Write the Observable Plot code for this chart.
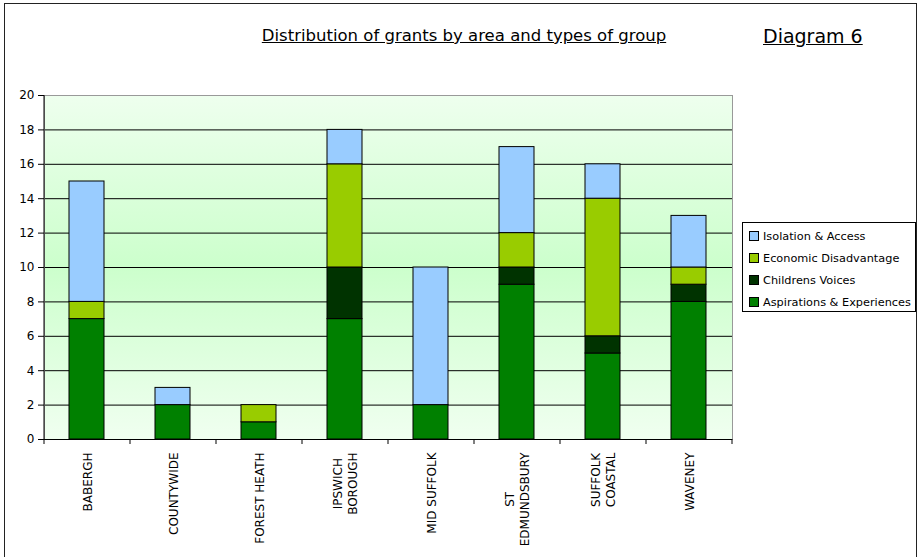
<!DOCTYPE html>
<html>
<head>
<meta charset="utf-8">
<script src="https://cdn.jsdelivr.net/npm/d3@7"></script>
<script src="https://cdn.jsdelivr.net/npm/@observablehq/plot@0.6"></script>
<style>
  html, body { margin: 0; padding: 0; background: #fff; }
  #wrap { position: relative; width: 921px; height: 557px; overflow: hidden;
          font-family: "Comic Sans MS", "DejaVu Sans", sans-serif; }
  #frame { position: absolute; left: 4px; top: 3px; width: 913px; height: 600px;
           border: 1px solid #222; box-sizing: border-box; }
  #title { position: absolute; left: 0; width: 928px; top: 26px; text-align: center;
           font-size: 16.5px; text-decoration: underline; color: #000; }
  #diag { position: absolute; left: 763px; top: 25px; font-size: 19px;
          text-decoration: underline; color: #000; }
  #legend { position: absolute; left: 742px; top: 222px; width: 174px; height: 90px;
            border: 1px solid #000; box-sizing: border-box; background: #fff;
            font-size: 11.3px; }
  .item { position: absolute; left: 6px; height: 14px; line-height: 14px; white-space: nowrap; }
  .sw { display: inline-block; width: 8px; height: 8px; border: 1px solid #000;
        vertical-align: middle; margin-right: 4px; position: relative; top: -1px; }
  svg { position: absolute; left: 0; top: 0; }
</style>
</head>
<body>
<div id="wrap">
  <div id="frame"></div>
  <div id="title">Distribution of grants by area and types of group</div>
  <div id="diag">Diagram 6</div>
  <div id="chart"></div>
  <div id="legend"></div>
</div>
<script>
// ---- data ----
const categories = ["BABERGH", "COUNTYWIDE", "FOREST HEATH", "IPSWICH BOROUGH", "MID SUFFOLK", "ST EDMUNDSBURY", "SUFFOLK COASTAL", "WAVENEY"];
const categoryLabels = ["BABERGH", "COUNTYWIDE", "FOREST HEATH", "IPSWICH\nBOROUGH", "MID SUFFOLK", "ST\nEDMUNDSBURY", "SUFFOLK\nCOASTAL", "WAVENEY"];
const series = ["Aspirations & Experiences", "Childrens Voices", "Economic Disadvantage", "Isolation & Access"];
const aspirations = [7, 2, 1, 7, 2, 9, 5, 8];
const childrensVoices = [0, 0, 0, 3, 0, 1, 1, 1];
const economicDisadvantage = [1, 0, 1, 6, 0, 2, 8, 1];
const isolationAccess = [7, 1, 0, 2, 8, 5, 2, 3];
const seriesColors = ["#008000", "#003300", "#99cc00", "#99ccff"];
const yTicks = [0, 2, 4, 6, 8, 10, 12, 14, 16, 18, 20];
const legendOrder = ["Isolation & Access", "Economic Disadvantage", "Childrens Voices", "Aspirations & Experiences"];

const seriesValues = [aspirations, childrensVoices, economicDisadvantage, isolationAccess];
const rows = [];
series.forEach((s, si) => {
  categories.forEach((c, ci) => {
    const v = seriesValues[si][ci];
    if (v > 0) rows.push({area: c, series: s, value: v});
  });
});

const FONT = "'Comic Sans MS', 'DejaVu Sans', sans-serif";
const LABEL_SIZE = 12;
const ctx = document.createElement("canvas").getContext("2d");
ctx.font = LABEL_SIZE + "px 'Comic Sans MS', 'DejaVu Sans', sans-serif";
function maxLineWidth(label) {
  return Math.max(...label.split("\n").map(l => ctx.measureText(l).width));
}

// background gradient of the plotting area
function gradientBg(index, scales, values, dimensions) {
  const {width, height, marginLeft, marginRight, marginTop, marginBottom} = dimensions;
  const g = d3.create("svg:g");
  const grad = g.append("defs").append("linearGradient")
    .attr("id", "bggrad").attr("x1", 0).attr("y1", 0).attr("x2", 0).attr("y2", 1);
  grad.append("stop").attr("offset", "0%").attr("stop-color", "#eeffee");
  grad.append("stop").attr("offset", "50%").attr("stop-color", "#ccffcc");
  grad.append("stop").attr("offset", "100%").attr("stop-color", "#f0fff0");
  g.append("rect")
    .attr("x", marginLeft).attr("y", marginTop)
    .attr("width", width - marginLeft - marginRight)
    .attr("height", height - marginTop - marginBottom)
    .attr("fill", "url(#bggrad)");
  return g.node();
}

// left axis line and category boundary ticks below the x axis
function axisLines(index, scales, values, dimensions) {
  const {width, height, marginLeft, marginRight, marginTop, marginBottom} = dimensions;
  const n = categories.length;
  const step = (width - marginLeft - marginRight) / n;
  const y0 = height - marginBottom;
  const g = d3.create("svg:g").attr("stroke", "#000");
  g.append("line").attr("x1", marginLeft).attr("x2", marginLeft)
    .attr("y1", marginTop).attr("y2", y0);
  for (let k = 0; k <= n; k++) {
    g.append("line").attr("x1", marginLeft + k * step).attr("x2", marginLeft + k * step)
      .attr("y1", y0).attr("y2", y0 + 5);
  }
  return g.node();
}

const labelMarks = categories.map((c, i) =>
  Plot.text([c], {
    x: d => d,
    text: () => categoryLabels[i],
    frameAnchor: "bottom",
    rotate: -90,
    textAnchor: "middle",
    lineAnchor: "middle",
    lineHeight: 1.2,
    fontSize: LABEL_SIZE,
    fill: "#000",
    dy: 13 + maxLineWidth(categoryLabels[i]) / 2
  })
);

const chart = Plot.plot({
  width: 921,
  height: 557,
  marginTop: 95,
  marginBottom: 118,
  marginLeft: 44,
  marginRight: 189,
  style: {fontFamily: FONT, background: "transparent", overflow: "visible"},
  x: {domain: categories, paddingInner: 0.59, paddingOuter: 0.295, axis: null},
  y: {domain: [0, 20], axis: null},
  color: {domain: series, range: seriesColors},
  marks: [
    gradientBg,
    Plot.gridY(yTicks, {stroke: "#000", strokeOpacity: 1, strokeWidth: 1}),
    Plot.frame({stroke: "#999"}),
    Plot.barY(rows, Plot.stackY({x: "area", y: "value", fill: "series", order: series, stroke: "#000", strokeWidth: 1})),
    Plot.ruleY([0], {stroke: "#000"}),
    Plot.axisY(yTicks, {tickSize: 6, tickPadding: 4, fontSize: 12, label: null, stroke: "#000", fill: "#000"}),
    axisLines,
    ...labelMarks
  ]
});
document.getElementById("chart").appendChild(chart);

// legend
const legend = document.getElementById("legend");
legendOrder.forEach((s, i) => {
  const item = document.createElement("div");
  item.className = "item";
  item.style.top = (7 + i * 22) + "px";
  const sw = document.createElement("span");
  sw.className = "sw";
  sw.style.background = seriesColors[series.indexOf(s)];
  item.appendChild(sw);
  item.appendChild(document.createTextNode(s));
  legend.appendChild(item);
});
</script>
</body>
</html>
